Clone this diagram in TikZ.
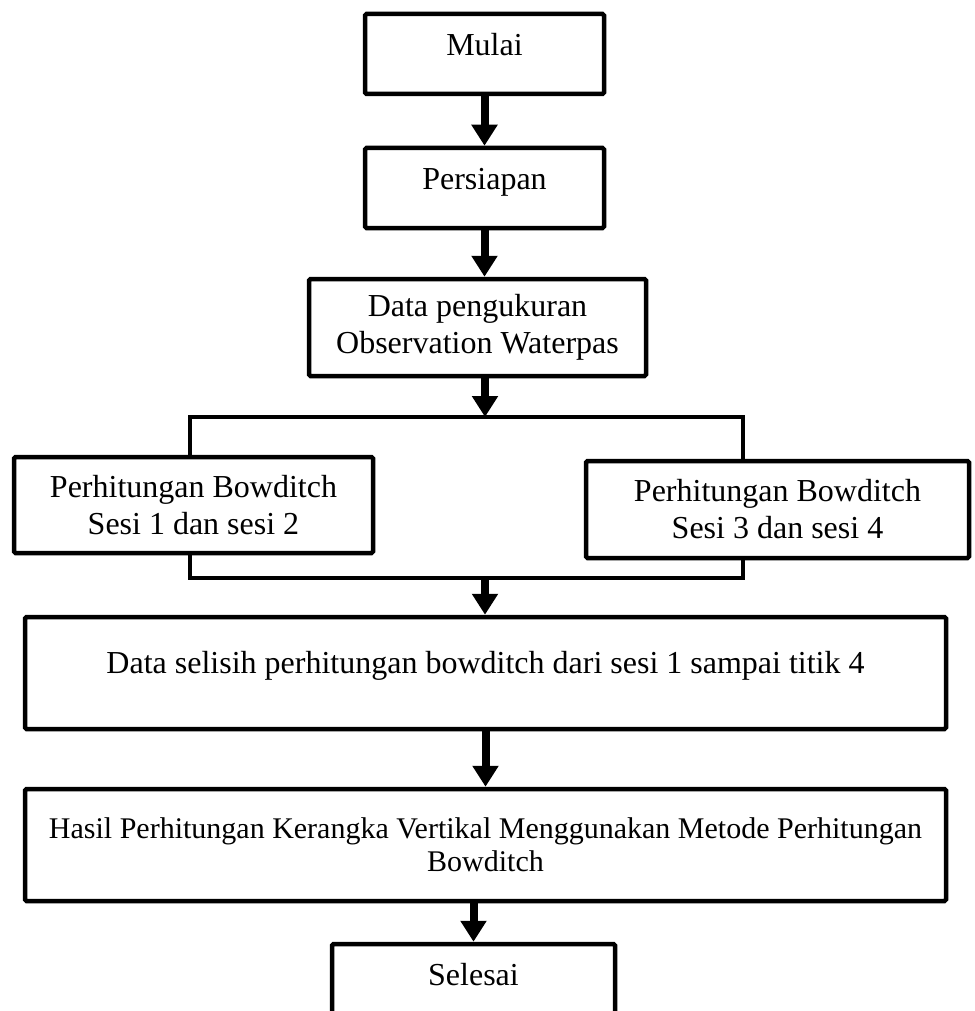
\documentclass[tikz,border=0pt]{standalone}
\usepackage{fontspec}
\setmainfont{Liberation Serif}
\usetikzlibrary{arrows.meta}

\begin{document}
\begin{tikzpicture}[x=1pt,y=-1pt,
  kotak/.style={draw,line width=4.5pt,rounded corners=1.5pt,align=center,inner sep=0pt,
    font=\fontsize{32}{37}\selectfont},
  satubaris/.style={text height=22pt,text depth=19pt},
  panah/.style={line width=8pt,-{Triangle[width=25pt,length=21pt]}},
  garis/.style={line width=4.5pt}]
\clip (0,0) rectangle (974,1011);

% alur atas
\node[kotak,satubaris,minimum width=239pt,minimum height=80pt] (mulai) at (484.5,54) {Mulai};
\node[kotak,satubaris,minimum width=239pt,minimum height=80pt] (persiapan) at (484.5,188) {Persiapan};
\node[kotak,minimum width=337pt,minimum height=97pt] (data) at (477.5,327.5) {Data pengukuran\\Observation Waterpas};

\draw[panah] (mulai.south) -- (persiapan.north);
\draw[panah] (persiapan.south) -- (persiapan.south |- data.north);

% percabangan
\coordinate (cabang) at (485,417);
\coordinate (cl) at (190,417);
\coordinate (cr) at (743,417);
\coordinate (gabung) at (485,578);

\node[kotak,minimum width=359pt,minimum height=96pt] (kiri) at (193.5,505) {Perhitungan Bowditch\\Sesi 1 dan sesi 2};
\node[kotak,minimum width=383pt,minimum height=97pt] (kanan) at (777.5,509.5) {Perhitungan Bowditch\\Sesi 3 dan sesi 4};

\draw[panah] (data.south -| cabang) -- (cabang);
\draw[garis] (kiri.north -| cl) -- (cl) -- (cr) -- (kanan.north -| cr);
\draw[garis] (kiri.south -| cl) -- (cl |- gabung) -- (cr |- gabung) -- (kanan.south -| cr);

% alur bawah
\node[kotak,text height=22pt,text depth=22pt,minimum width=921pt,minimum height=112pt] (selisih) at (485.5,673)
  {Data selisih perhitungan bowditch dari sesi 1 sampai titik 4};
\node[kotak,font=\fontsize{30}{33}\selectfont,minimum width=921pt,minimum height=112pt] (hasil) at (485.5,845)
  {Hasil Perhitungan Kerangka Vertikal Menggunakan Metode Perhitungan\\Bowditch};
\node[kotak,satubaris,minimum width=283pt,minimum height=80pt] (selesai) at (473.5,984) {Selesai};

\draw[panah] (gabung) -- (gabung |- selisih.north);
\draw[panah] (selisih.south) -- (hasil.north);
\draw[panah] (hasil.south -| selesai.north) -- (selesai.north);
\end{tikzpicture}
\end{document}
